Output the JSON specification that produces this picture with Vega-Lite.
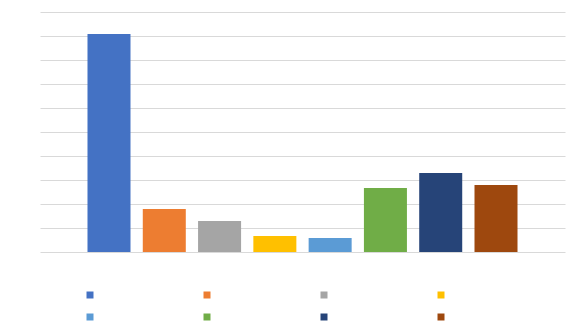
{
  "$schema": "https://vega.github.io/schema/vega-lite/v6.json",
  "width": 525,
  "height": 240,
  "autosize": {"type": "none"},
  "padding": {"left": 40, "top": 12, "right": 2, "bottom": 75},
  "background": "white",
  "data": {"values": [
    {"category": "1", "value": 9.08},
    {"category": "2", "value": 1.79},
    {"category": "3", "value": 1.29},
    {"category": "4", "value": 0.67},
    {"category": "5", "value": 0.58},
    {"category": "6", "value": 2.67},
    {"category": "7", "value": 3.29},
    {"category": "8", "value": 2.79}
  ]},
  "mark": {"type": "bar"},
  "encoding": {
    "x": {"field": "category", "type": "nominal", "sort": null,
      "scale": {"paddingInner": 0.222, "paddingOuter": 0.859, "align": 0.5},
      "axis": null},
    "y": {"field": "value", "type": "quantitative",
      "scale": {"domain": [0, 10], "nice": false},
      "axis": {"values": [0,1,2,3,4,5,6,7,8,9,10], "labels": false, "ticks": false, "domain": false, "title": null, "grid": true, "gridColor": "#d9d9d9", "gridWidth": 1}},
    "color": {"field": "category", "type": "nominal", "sort": null,
      "scale": {"range": ["#4472C4", "#ED7D31", "#A5A5A5", "#FFC000", "#5B9BD5", "#70AD47", "#264478", "#9E480E"]},
      "legend": {"orient": "none", "legendX": 45, "legendY": 278, "direction": "horizontal", "columns": 4, "symbolType": "square", "symbolSize": 49, "symbolStrokeWidth": 0, "labelExpr": "''", "labelOffset": 0, "columnPadding": 107, "rowPadding": 12, "title": null}}
  },
  "config": {"view": {"stroke": null}}
}
